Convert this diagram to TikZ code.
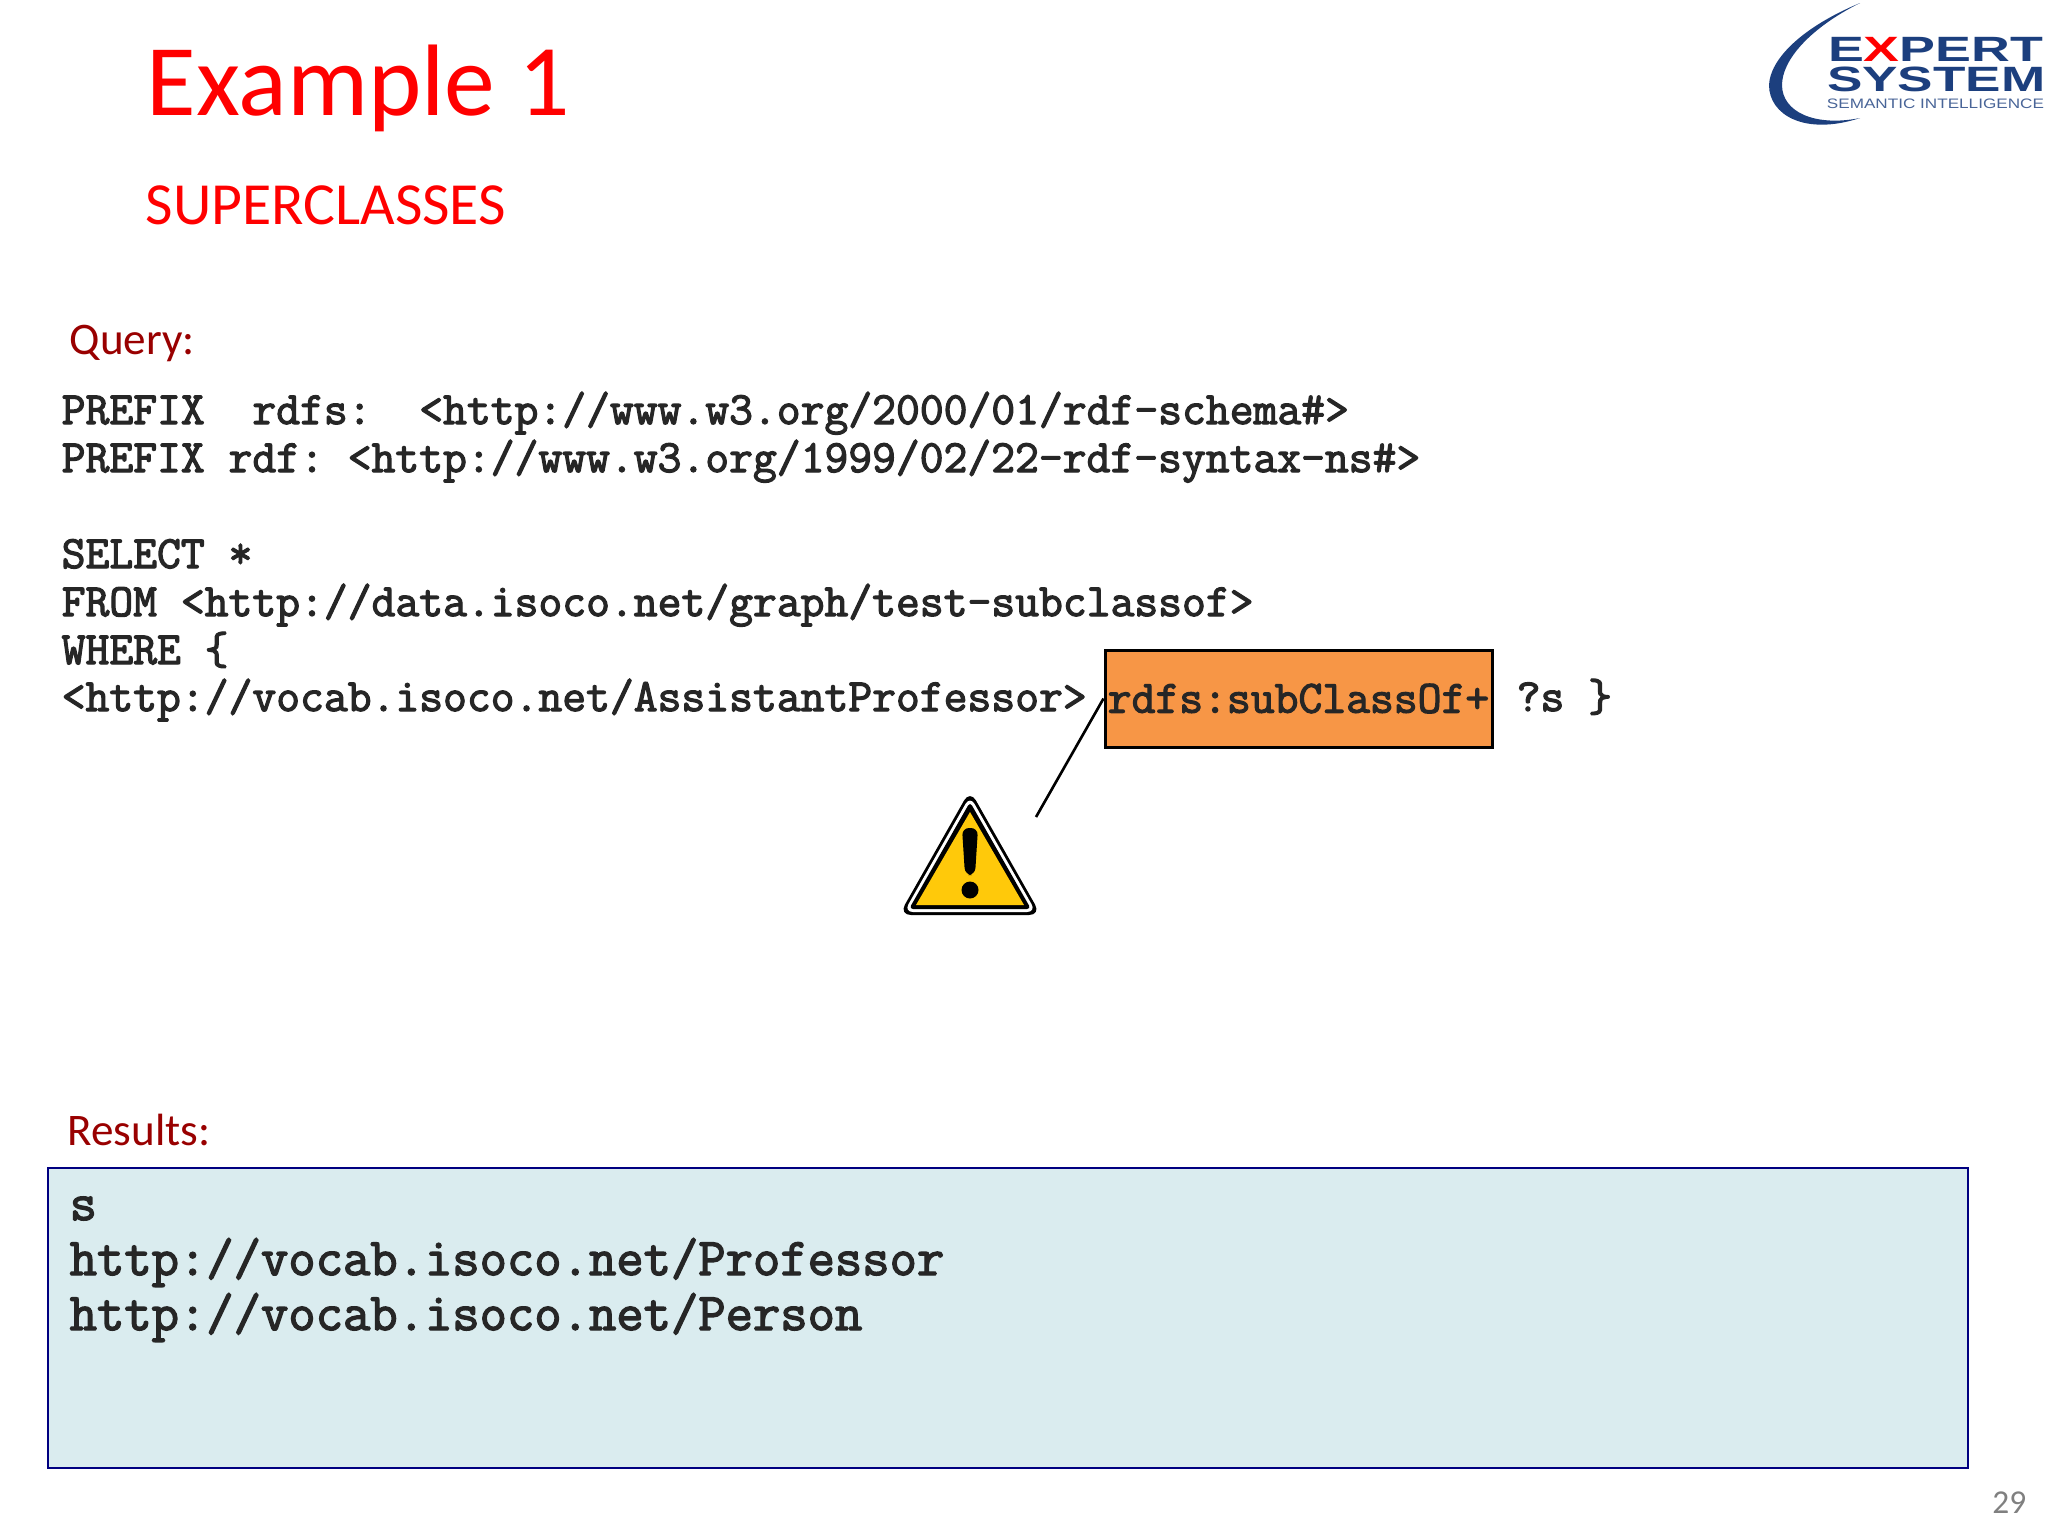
\documentclass[tikz,border=0pt]{standalone}
\usepackage{fontspec}
\setmainfont{Carlito}
\newfontfamily\codefont[FakeBold=2.6]{Latin Modern Mono}
\newfontfamily\logofont{Liberation Sans}
\usepackage{tikz}
\definecolor{darkred}{HTML}{990000}
\definecolor{logoblue}{HTML}{1C3F7E}
\definecolor{boxorange}{HTML}{F79646}
\definecolor{resfill}{HTML}{DAECEF}
\definecolor{warnyellow}{HTML}{FFC90A}
\frenchspacing
\tikzset{
  plaintext/.style={anchor=base west,inner sep=0pt},
  codetext/.style={plaintext,text=black!85,font=\fontsize{13.17}{15}\codefont},
  restext/.style={plaintext,text=black!85,font=\fontsize{15.1}{17}\codefont},
  headtext/.style={plaintext,text=darkred,font=\fontsize{12.85}{15}\selectfont},
  logotext/.style={anchor=base west,inner sep=0pt,text=logoblue,transform shape}
}
\begin{document}
\begin{tikzpicture}[x=0.1mm,y=-0.1mm]
\useasboundingbox (0,0) rectangle (2048,1536);
\fill[white] (0,0) rectangle (2048,1536);
% titles
\node[plaintext,text=red,font=\fontsize{28.9}{32}\selectfont] (title) at (146,115) {Example 1};
\node[plaintext,text=red,font=\fontsize{17}{20}\selectfont] (subtitle) at (145,224) {SUPERCLASSES};
\node[headtext] (queryhead) at (69,354) {Query:};
\node[headtext] (reshead) at (67,1145) {Results:};
% query
\foreach \n/\ypos/\txt in {1/424/{PREFIX\ \ rdfs:\ \ <http://www.w3.org/2000/01/rdf-schema\#>},
  2/472/{PREFIX rdf: <http://www.w3.org/1999/02/22-rdf-syntax-ns\#>},
  3/568/{SELECT *},
  4/616/{FROM <http://data.isoco.net/graph/test-subclassof>},
  5/664/{WHERE \{},
  6/711/{<http://vocab.isoco.net/AssistantProfessor>}}
  {\node[codetext] (qline\n) at (61,\ypos) {\txt};}
\node[draw=black,line width=0.85pt,fill=boxorange,minimum width=38.7mm,minimum height=9.7mm,inner sep=0pt,
  font=\fontsize{13.17}{15}\codefont,text=black!85] (subbox) at (1298.5,698.5) {rdfs:subClassOf+};
\node[codetext] (qend) at (1516,711) {?s \}};
% warning
\coordinate (warnend) at (1036,817);
\draw[line width=0.75pt] (warnend) -- (subbox.west);
\fill[black,rounded corners=1.2mm] (970,790) -- (1041,915) -- (899,915) -- cycle;
\fill[white,rounded corners=0.9mm] (970,796) -- (1036,912) -- (904,912) -- cycle;
\fill[black,rounded corners=0.4mm] (970,802) -- (1031,909) -- (909,909) -- cycle;
\fill[warnyellow] (970,812) -- (1024,905) -- (916,905) -- cycle;
\fill[black,rounded corners=0.7mm] (962,828) -- (978,828) -- (975,875) -- (965,875) -- cycle;
\fill[black] (970,890) circle (0.85mm);
% results
\node[draw=blue!50!black,line width=0.7pt,fill=resfill,minimum width=192mm,minimum height=30mm,inner sep=0pt] (resbox) at (1008,1318) {};
\node[restext] (resline1) at (69,1220) {s};
\node[restext] (resline2) at (69,1275) {http://vocab.isoco.net/Professor};
\node[restext] (resline3) at (69,1330) {http://vocab.isoco.net/Person};
\node[anchor=base east,inner sep=0pt,text=black!50,font=\fontsize{9.5}{11}\selectfont] (pagenum) at (2027,1513) {29};
% logo
\fill[logoblue] (1860,3) .. controls (1800,28) and (1770,60) .. (1769,85) .. controls (1769,115) and (1805,136) .. (1860,118) .. controls (1815,127) and (1782,112) .. (1782,85) .. controls (1782,60) and (1810,28) .. (1860,3) -- cycle;
\node[logotext,xscale=1.53,font=\fontsize{10}{11}\logofont\bfseries] (logoa) at (1827,61) {E\textcolor{red}{X}PERT};
\node[logotext,xscale=1.51,font=\fontsize{10}{11}\logofont\bfseries] (logob) at (1826,91) {SYSTEM};
\node[logotext,xscale=1.25,text=logoblue!80!white,font=\fontsize{3.9}{5}\logofont] (logoc) at (1826,108) {SEMANTIC INTELLIGENCE};
\end{tikzpicture}
\end{document}
